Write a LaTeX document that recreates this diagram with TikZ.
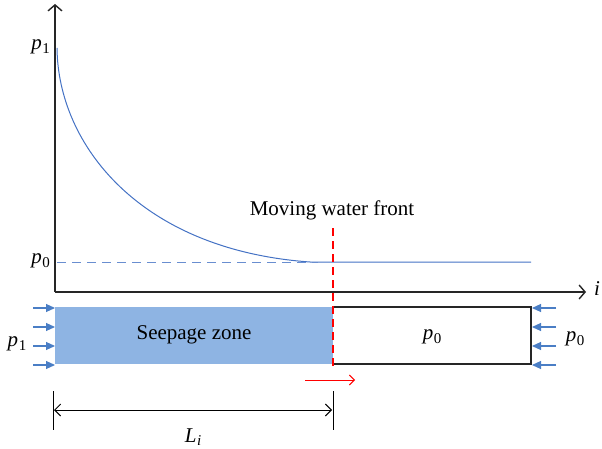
\documentclass[tikz,border=0pt]{standalone}
\usepackage{fontspec}
\setmainfont{Liberation Serif}
\usetikzlibrary{arrows.meta}
\definecolor{curveblue}{HTML}{4472C4}
\definecolor{zonefill}{HTML}{8EB4E3}
\definecolor{arrowblue}{HTML}{4A7EC5}
\newcommand\psym[2]{\textit{#1}\kern0.5pt\raisebox{-0.35ex}{\fontsize{15}{16}\selectfont #2}}
\tikzset{
  lbl/.style={font=\fontsize{21}{24}\selectfont, inner sep=0pt},
  axis/.style={line width=1.4pt, draw=black!85, -{Straight Barb[length=6pt,width=14pt,line width=1.4pt]}},
  bluearr/.style={arrowblue, line width=1.1pt, -{Triangle[length=9pt,width=8pt]}},
  dimline/.style={line width=0.9pt, {Straight Barb[length=6pt,width=12pt]}-{Straight Barb[length=6pt,width=12pt]}},
}
\begin{document}
\begin{tikzpicture}[x=1pt,y=-1pt]
\useasboundingbox (0,0) rectangle (602,449);
% axes
\coordinate (O) at (55,292);
\coordinate (ytop) at (55,4);
\coordinate (xend) at (586,292);
\draw[axis] (O) -- (ytop);
\draw[axis] (O) -- (xend);
\node[lbl, anchor=west] (ilbl) at (594,289) {\textit{i}};
\node[lbl, anchor=east] (p1y) at (50,47) {\psym{p}{1}};
\node[lbl, anchor=east] (p0y) at (50,261) {\psym{p}{0}};
% curve
\draw[curveblue, line width=1pt] (57,48) .. controls (58,145) and (140,250) .. (310,262) -- (531,262);
\draw[curveblue!80, line width=1pt, dash pattern=on 9pt off 6pt] (57,262) -- (318,262);
% front
\node[lbl] (mwf) at (332,210) {Moving water front};
\coordinate (ftop) at (333,228);
\coordinate (fbot) at (333,366);
% zones
\fill[zonefill] (55,307) rectangle (333,364);
\draw[line width=1.1pt, black!85] (333,307) -- (531,307) -- (531,364) -- (333,364);
\draw[red, line width=1.1pt, dash pattern=on 8pt off 5pt] (ftop) -- (fbot);
\node[lbl] (seep) at (194,335) {Seepage zone};
\node[lbl] (p0in) at (432,337) {\psym{p}{0}};
% boundary arrows
\foreach \y in {308,327,346,365} {
  \draw[bluearr] (33,\y) -- (55,\y);
  \draw[bluearr] (556,\y) -- (532,\y);
}
\node[lbl] (p1l) at (17,344) {\psym{p}{1}};
\node[lbl] (p0r) at (575,339) {\psym{p}{0}};
% moving arrow
\coordinate (ra) at (305,380);
\coordinate (rb) at (355,380);
\draw[red, line width=0.9pt, -{Straight Barb[length=5pt,width=10pt]}] (ra) -- (rb);
% dimension
\coordinate (d1t) at (53,391);
\coordinate (d1b) at (53,430);
\coordinate (d2t) at (333,391);
\coordinate (d2b) at (333,430);
\draw[line width=0.9pt] (d1t) -- (d1b);
\draw[line width=0.9pt] (d2t) -- (d2b);
\draw[dimline] (54,410) -- (332,410);
\node[lbl] (Li) at (193,437) {\psym{L}{\textit{i}}};
\end{tikzpicture}
\end{document}
